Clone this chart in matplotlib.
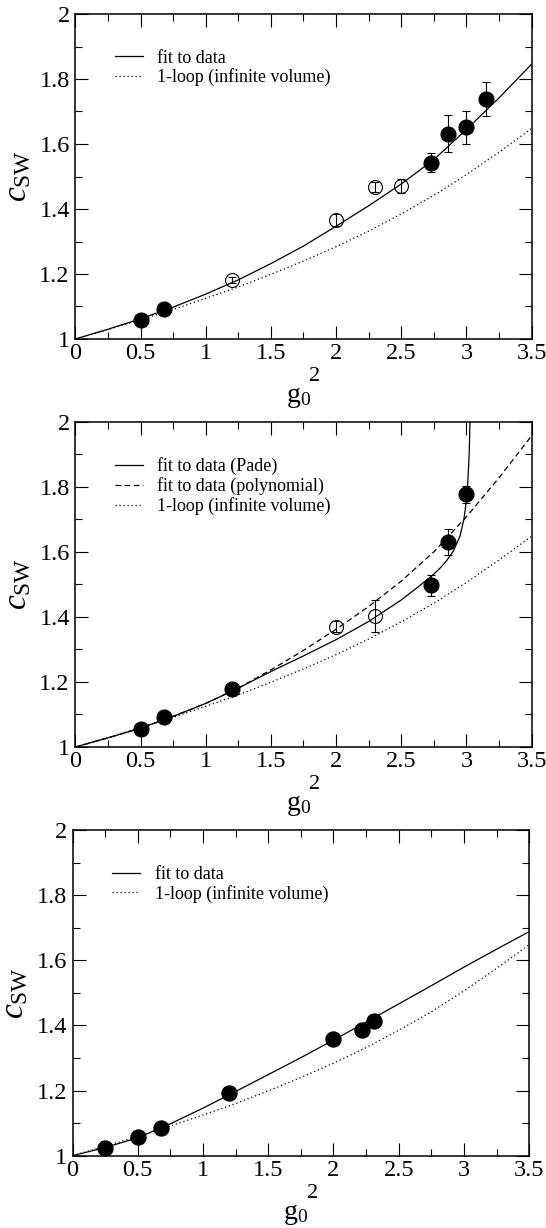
import numpy as np
import matplotlib
matplotlib.use("Agg")
import matplotlib.pyplot as plt
from matplotlib.ticker import MultipleLocator, FormatStrFormatter
from matplotlib.transforms import offset_copy

plt.rcParams['font.family'] = ['Liberation Serif', 'DejaVu Serif']
plt.rcParams['mathtext.fontset'] = 'custom'
plt.rcParams['mathtext.rm'] = 'Liberation Serif'
plt.rcParams['mathtext.it'] = 'Liberation Serif:italic'

# common grid for the tabulated curves
g2_grid = [0.0, 0.25, 0.5, 0.75, 1.0, 1.25, 1.5, 1.75, 2.0, 2.25, 2.5, 2.75, 3.0, 3.25, 3.5]
one_loop = [1.000, 1.029, 1.059, 1.091, 1.125, 1.160, 1.199, 1.240, 1.284, 1.332, 1.385, 1.442, 1.506, 1.575, 1.648]

# panel 1
fit_p1 = [1.000, 1.030, 1.062, 1.098, 1.138, 1.182, 1.232, 1.286, 1.347, 1.410, 1.477, 1.552, 1.645, 1.742, 1.846]
g2_p1_filled = [0.5, 0.68, 2.73, 2.86, 3.0, 3.15]
c_p1_filled = [1.060, 1.091, 1.543, 1.632, 1.651, 1.739]
err_p1_filled = [0.0, 0.0, 0.029, 0.058, 0.051, 0.053]
g2_p1_open = [1.2, 2.0, 2.3, 2.5]
c_p1_open = [1.182, 1.367, 1.467, 1.470]
err_p1_open = [0.010, 0.018, 0.015, 0.021]

# panel 2
poly_p2 = [1.000, 1.028, 1.058, 1.094, 1.134, 1.181, 1.237, 1.297, 1.362, 1.432, 1.510, 1.600, 1.708, 1.828, 1.957]
g2_pade = [0.0, 0.25, 0.5, 0.75, 1.0, 1.25, 1.5, 1.75, 2.0, 2.25, 2.5, 2.6, 2.7, 2.75, 2.8,
           2.85, 2.9, 2.95, 2.98, 3.0, 3.01, 3.02, 3.027, 3.032]
pade_p2 = [1.000, 1.028, 1.058, 1.094, 1.134, 1.181, 1.232, 1.280, 1.330, 1.386, 1.452, 1.483, 1.515, 1.532, 1.551,
           1.574, 1.603, 1.648, 1.700, 1.760, 1.815, 1.895, 2.000, 2.080]
g2_p2_filled = [0.5, 0.68, 1.2, 2.73, 2.86, 3.0]
c_p2_filled = [1.056, 1.091, 1.178, 1.497, 1.630, 1.777]
err_p2_filled = [0.0, 0.0, 0.0, 0.033, 0.040, 0.026]
g2_p2_open = [2.0, 2.3]
c_p2_open = [1.369, 1.403]
err_p2_open = [0.017, 0.049]

# panel 3
fit_p3 = [1.000, 1.025, 1.055, 1.098, 1.146, 1.197, 1.249, 1.301, 1.355, 1.410, 1.466, 1.522, 1.579, 1.634, 1.688]
g2_p3 = [0.25, 0.5, 0.68, 1.2, 2.0, 2.22, 2.31]
c_p3 = [1.025, 1.057, 1.085, 1.191, 1.358, 1.387, 1.414]

W, H = 546, 1228
fig = plt.figure(figsize=(W / 100, H / 100), dpi=100)

dotted = (0, (1.0, 2.2))


def setup_axes(rect):
    ax = fig.add_axes(rect)
    ax.set_xlim(0, 3.5)
    ax.set_ylim(1, 2)
    ax.xaxis.set_major_locator(MultipleLocator(0.5))
    ax.xaxis.set_minor_locator(MultipleLocator(0.25))
    ax.yaxis.set_major_locator(MultipleLocator(0.2))
    ax.yaxis.set_minor_locator(MultipleLocator(0.1))
    ax.xaxis.set_major_formatter(FormatStrFormatter('%g'))
    ax.yaxis.set_major_formatter(FormatStrFormatter('%g'))
    ax.tick_params(which='both', direction='in', top=True, right=True, width=0.8)
    ax.tick_params(which='major', length=9.4, labelsize=17.5)
    ax.tick_params(which='minor', length=4.7)
    ax.tick_params(axis='x', pad=3)
    ax.tick_params(axis='y', pad=4)
    for s in ax.spines.values():
        s.set_linewidth(1.1)
    # axis labels
    tr = offset_copy(ax.transAxes, fig=fig, x=0, y=-63, units='dots')
    ax.text(0.462, 0, r'$\mathrm{g}_0$', transform=tr, fontsize=20, ha='left', va='baseline')
    tr = offset_copy(ax.transAxes, fig=fig, x=0, y=-42, units='dots')
    ax.text(0.513, 0, '2', transform=tr, fontsize=16, ha='left', va='baseline')
    tr = offset_copy(ax.transAxes, fig=fig, x=-49, y=0, units='dots')
    ax.text(0, 0.5, r'$c_{\mathrm{SW}}$', transform=tr, fontsize=24, rotation=90,
            rotation_mode='anchor', ha='center', va='baseline')
    return ax


def add_legend(ax):
    ax.legend(loc='upper left', bbox_to_anchor=(0.087, 0.89), frameon=False, fontsize=13,
              borderpad=0, borderaxespad=0, handlelength=1.55, handletextpad=0.8, labelspacing=0.1)


def points(ax, x, y, err, filled):
    ax.errorbar(x, y, yerr=err, fmt='o', ms=10.8 if filled else 10,
                mfc='k' if filled else 'none', mec='k', mew=0.8, ecolor='k',
                elinewidth=0.8, capsize=2.6, capthick=0.8, zorder=3)


# panel 1
ax1 = setup_axes([75.3 / W, 1 - 339 / H, 456.4 / W, 325 / H])
ax1.plot(g2_grid, fit_p1, color='k', lw=0.9, label='fit to data')
ax1.plot(g2_grid, one_loop, color='k', lw=0.9, ls=dotted, label='1-loop (infinite volume)')
points(ax1, g2_p1_filled, c_p1_filled, err_p1_filled, True)
points(ax1, g2_p1_open, c_p1_open, err_p1_open, False)
add_legend(ax1)

# panel 2
ax2 = setup_axes([75.3 / W, 1 - 747 / H, 456.4 / W, 325.3 / H])
ax2.plot(g2_pade, pade_p2, color='k', lw=0.9, label='fit to data (Pade)')
ax2.plot(g2_grid, poly_p2, color='k', lw=0.9, ls=(0, (4.5, 2.8)), label='fit to data (polynomial)')
ax2.plot(g2_grid, one_loop, color='k', lw=0.9, ls=dotted, label='1-loop (infinite volume)')
points(ax2, g2_p2_filled, c_p2_filled, err_p2_filled, True)
points(ax2, g2_p2_open, c_p2_open, err_p2_open, False)
add_legend(ax2)

# panel 3
ax3 = setup_axes([72.5 / W, 1 - 1155.7 / H, 456.7 / W, 325.7 / H])
ax3.plot(g2_grid, fit_p3, color='k', lw=0.9, label='fit to data')
ax3.plot(g2_grid, one_loop, color='k', lw=0.9, ls=dotted, label='1-loop (infinite volume)')
ax3.plot(g2_p3, c_p3, 'o', ms=10.8, color='k', zorder=3)
add_legend(ax3)

fig.savefig('out.png', dpi=100)
